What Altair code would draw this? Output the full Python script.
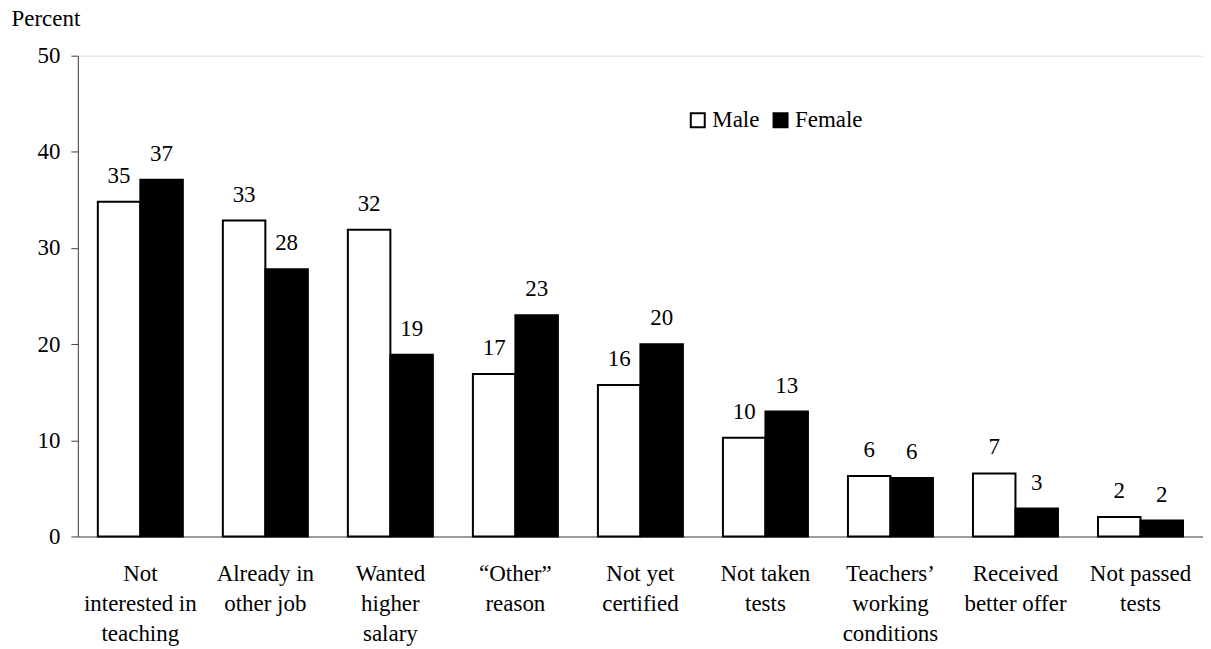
import altair as alt
import pandas as pd

categories = [
    "Not|interested in|teaching",
    "Already in|other job",
    "Wanted|higher|salary",
    "\u201cOther\u201d|reason",
    "Not yet|certified",
    "Not taken|tests",
    "Teachers\u2019|working|conditions",
    "Received|better offer",
    "Not passed|tests",
]
series = ["Male", "Female"]
male = [34.8, 32.85, 31.9, 16.9, 15.75, 10.26, 6.28, 6.56, 2.03]
female = [37.1, 27.8, 18.9, 23.0, 20.0, 13.0, 6.07, 2.9, 1.66]
y_ticks = [0, 10, 20, 30, 40, 50]

rows = []
for c, m, f in zip(categories, male, female):
    rows.append({"reason": c, "sex": "Male", "value": m})
    rows.append({"reason": c, "sex": "Female", "value": f})
df = pd.DataFrame(rows)

FONT = "'Liberation Serif', 'Times New Roman', 'DejaVu Serif', serif"
FS = 23

x_enc = alt.X(
    "reason:N",
    sort=categories,
    scale=alt.Scale(paddingInner=0.32, paddingOuter=0.16),
    axis=alt.Axis(
        title=None,
        labelAngle=0,
        ticks=False,
        domainColor="#808080",
        domainWidth=1.5,
        labelExpr="split(datum.label, '|')",
        labelFontSize=FS,
        labelFont=FONT,
        labelLineHeight=30,
        labelBaseline="alphabetic",
        labelPadding=44,
        labelColor="black",
    ),
)
xoff = alt.XOffset("sex:N", sort=series, scale=alt.Scale(paddingInner=0, paddingOuter=0))
y_enc = alt.Y(
    "value:Q",
    scale=alt.Scale(domain=[0, 50]),
    axis=alt.Axis(
        values=y_ticks,
        grid=False,
        title="Percent",
        titleAngle=0,
        titleAlign="left",
        titleBaseline="alphabetic",
        titleX=-67,
        titleY=-30,
        titleFont=FONT,
        titleFontSize=FS,
        titleFontWeight="normal",
        titleColor="black",
        labelFont=FONT,
        labelFontSize=FS,
        labelColor="black",
        labelPadding=11,
        tickSize=7,
        tickColor="#404040",
        domainColor="#404040",
    ),
)

bars = alt.Chart(df).mark_bar(stroke="black", strokeWidth=2).encode(
    x=x_enc,
    xOffset=xoff,
    y=y_enc,
    color=alt.Color(
        "sex:N",
        sort=series,
        scale=alt.Scale(domain=series, range=["white", "black"]),
        legend=alt.Legend(
            title=None,
            orient="none",
            legendX=610,
            legendY=53,
            direction="horizontal",
            symbolType="square",
            symbolSize=196,
            symbolStrokeColor="black",
            symbolStrokeWidth=2,
            labelFont=FONT,
            labelFontSize=FS,
            labelColor="black",
            labelOffset=3,
            columnPadding=9,
            padding=0,
        ),
    ),
)

labels = alt.Chart(df).mark_text(
    baseline="alphabetic", dy=-19, font=FONT, fontSize=FS, color="black"
).encode(
    x=alt.X("reason:N", sort=categories),
    xOffset=alt.XOffset("sex:N", sort=series),
    y=alt.Y("value:Q"),
    text=alt.Text("value:Q", format=".0f"),
)

chart = (
    alt.layer(bars, labels)
    .properties(
        width=1128,
        height=482,
        autosize=alt.AutoSizeParams(type="none"),
        padding={"left": 70, "top": 47, "right": 0, "bottom": 112},
    )
    .configure_view(stroke=None)
    .configure(background="white")
)

chart.save("out.html", embed_options={"renderer": "svg", "actions": False})
